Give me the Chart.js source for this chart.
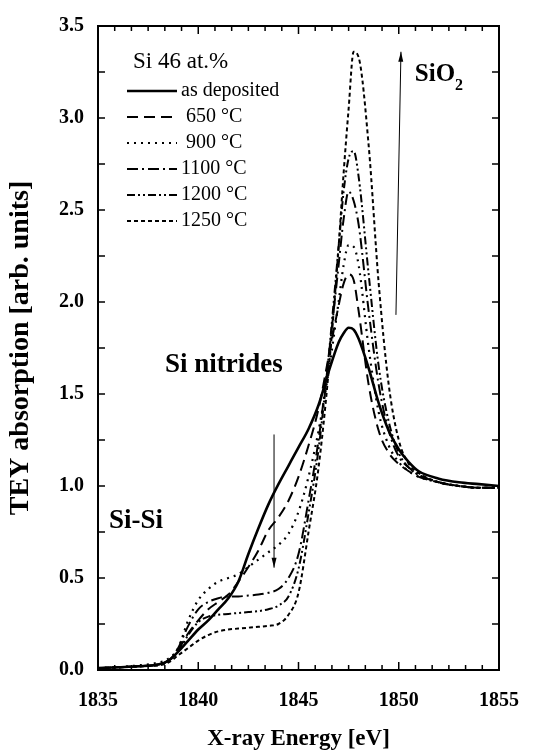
<!DOCTYPE html>
<html>
<head>
<meta charset="utf-8">
<script src="https://cdn.jsdelivr.net/npm/chart.js@4.4.1/dist/chart.umd.min.js"></script>
<style>
  html, body { margin: 0; padding: 0; background: #fff; }
</style>
</head>
<body>
<canvas id="myChart" width="553" height="753"></canvas>
<script>
/** Data start */

// photon energy grid (eV)
const energy = [1835, 1836, 1837, 1838, 1838.5, 1839, 1839.5, 1840, 1840.5, 1841, 1841.5, 1842,
  1842.5, 1843, 1843.5, 1844, 1844.5, 1845, 1845.5, 1846, 1846.5, 1847, 1847.25, 1847.5,
  1847.75, 1848, 1848.5, 1849, 1849.5, 1850, 1850.5, 1851, 1852, 1853, 1854, 1855];

// TEY absorption, one list per sample
const asDeposited = [0.01, 0.015, 0.02, 0.03, 0.05, 0.1, 0.16, 0.22, 0.27, 0.33, 0.39, 0.48,
  0.63, 0.77, 0.9, 1.01, 1.11, 1.21, 1.31, 1.44, 1.62, 1.78, 1.83, 1.86,
  1.85, 1.8, 1.64, 1.45, 1.3, 1.2, 1.13, 1.08, 1.04, 1.02, 1.01, 1.0];
const ann650 = [0.01, 0.015, 0.02, 0.03, 0.05, 0.11, 0.2, 0.27, 0.33, 0.37, 0.41, 0.48,
  0.56, 0.65, 0.76, 0.83, 0.92, 1.05, 1.22, 1.42, 1.7, 1.98, 2.1, 2.15,
  2.12, 1.95, 1.55, 1.3, 1.18, 1.12, 1.08, 1.05, 1.02, 1.0, 0.99, 0.99];
const ann900 = [0.01, 0.015, 0.025, 0.04, 0.06, 0.12, 0.27, 0.38, 0.44, 0.48, 0.5, 0.52,
  0.56, 0.6, 0.64, 0.68, 0.74, 0.86, 1.05, 1.3, 1.62, 2.0, 2.2, 2.31,
  2.3, 2.2, 1.75, 1.4, 1.22, 1.13, 1.08, 1.05, 1.02, 1.0, 0.99, 0.99];
const ann1100 = [0.01, 0.015, 0.02, 0.03, 0.05, 0.12, 0.24, 0.33, 0.37, 0.39, 0.4, 0.4,
  0.405, 0.41, 0.42, 0.44, 0.5, 0.63, 0.92, 1.25, 1.7, 2.2, 2.45, 2.6,
  2.55, 2.42, 1.95, 1.55, 1.3, 1.16, 1.1, 1.06, 1.02, 1.0, 0.99, 0.99];
const ann1200 = [0.01, 0.015, 0.02, 0.03, 0.05, 0.1, 0.19, 0.26, 0.29, 0.3, 0.305, 0.31,
  0.315, 0.32, 0.33, 0.35, 0.4, 0.55, 0.85, 1.2, 1.7, 2.3, 2.6, 2.78,
  2.82, 2.68, 2.15, 1.65, 1.35, 1.18, 1.1, 1.06, 1.02, 1.0, 0.99, 0.99];
const ann1250 = [0.01, 0.015, 0.02, 0.025, 0.04, 0.08, 0.12, 0.16, 0.19, 0.21, 0.22, 0.225,
  0.23, 0.235, 0.24, 0.25, 0.3, 0.42, 0.75, 1.1, 1.62, 2.3, 2.7, 3.05,
  3.36, 3.33, 2.85, 2.1, 1.55, 1.25, 1.12, 1.07, 1.02, 1.0, 0.99, 0.99];

const seriesLabels = ['as deposited', '650 °C', '900 °C', '1100 °C', '1200 °C', '1250 °C'];
const xTickValues = [1835, 1840, 1845, 1850, 1855];
const yTickValues = [0, 0.5, 1.0, 1.5, 2.0, 2.5, 3.0, 3.5];

/** Data end */

const serif = "'Liberation Serif', 'Times New Roman', serif";

const styles = [
  { dash: [], width: 2.6 },
  { dash: [11, 6], width: 2 },
  { dash: [2, 5], width: 2.2 },
  { dash: [11, 4, 2, 4], width: 2 },
  { dash: [8, 3, 2, 3, 2, 3], width: 2 },
  { dash: [4, 3], width: 2 }
];

const allSeries = [asDeposited, ann650, ann900, ann1100, ann1200, ann1250];

const datasets = allSeries.map((vals, i) => ({
  label: seriesLabels[i],
  data: energy.map((e, j) => ({ x: e, y: vals[j] })),
  borderColor: '#000',
  borderWidth: styles[i].width,
  borderDash: styles[i].dash,
  pointRadius: 0,
  fill: false,
  cubicInterpolationMode: 'monotone'
}));

function arrow(ctx, x1, y1, x2, y2) {
  const ang = Math.atan2(y2 - y1, x2 - x1);
  ctx.save();
  ctx.setLineDash([]);
  ctx.lineWidth = 1;
  ctx.strokeStyle = '#000';
  ctx.fillStyle = '#000';
  ctx.beginPath();
  ctx.moveTo(x1, y1);
  ctx.lineTo(x2, y2);
  ctx.stroke();
  ctx.translate(x2, y2);
  ctx.rotate(ang);
  ctx.beginPath();
  ctx.moveTo(0, 0);
  ctx.lineTo(-10, -2.5);
  ctx.lineTo(-10, 2.5);
  ctx.closePath();
  ctx.fill();
  ctx.restore();
}

// frame, inward ticks, legend and labels
const decorations = {
  id: 'decorations',
  afterDatasetsDraw(chart) {
    const ctx = chart.ctx;
    const xs = chart.scales.x;
    const ys = chart.scales.y;
    const a = chart.chartArea;
    ctx.save();
    ctx.strokeStyle = '#000';
    ctx.fillStyle = '#000';
    ctx.setLineDash([]);

    // frame
    ctx.lineWidth = 2;
    ctx.strokeRect(a.left, a.top, a.right - a.left, a.bottom - a.top);

    // x ticks: majors every 5 eV, 5 minors between
    ctx.lineWidth = 1.5;
    for (let i = 0; i <= 24; i++) {
      const px = xs.getPixelForValue(1835 + i * 5 / 6);
      const len = i % 6 === 0 ? 8 : 5;
      ctx.beginPath();
      ctx.moveTo(px, a.bottom);
      ctx.lineTo(px, a.bottom - len);
      ctx.moveTo(px, a.top);
      ctx.lineTo(px, a.top + len);
      ctx.stroke();
    }
    // y ticks every 0.25
    for (let i = 0; i <= 14; i++) {
      const py = ys.getPixelForValue(i * 0.25);
      ctx.beginPath();
      ctx.moveTo(a.left, py);
      ctx.lineTo(a.left + 7, py);
      ctx.moveTo(a.right, py);
      ctx.lineTo(a.right - 7, py);
      ctx.stroke();
    }

    // legend
    ctx.textBaseline = 'middle';
    ctx.textAlign = 'left';
    ctx.font = '23px ' + serif;
    ctx.fillText('Si 46 at.%', a.left + 35, a.top + 36);
    ctx.font = '20px ' + serif;
    chart.data.datasets.forEach((ds, i) => {
      const y = a.top + 65 + i * 26;
      ctx.save();
      ctx.lineWidth = ds.borderWidth;
      ctx.setLineDash(ds.borderDash);
      ctx.beginPath();
      ctx.moveTo(a.left + 29, y);
      ctx.lineTo(a.left + 79, y);
      ctx.stroke();
      ctx.restore();
      const off = ds.label.length < 7 ? 5 : 0;
      ctx.fillText(ds.label, a.left + 83 + off, y);
    });

    // peak labels
    ctx.font = 'bold 27px ' + serif;
    ctx.textAlign = 'center';
    ctx.fillText('Si nitrides', xs.getPixelForValue(1841.28), ys.getPixelForValue(1.66));
    ctx.fillText('Si-Si', xs.getPixelForValue(1836.9), ys.getPixelForValue(0.81));
    ctx.textAlign = 'left';
    ctx.textBaseline = 'alphabetic';
    const sx = xs.getPixelForValue(1850.8);
    const sy = ys.getPixelForValue(3.2);
    ctx.font = 'bold 25px ' + serif;
    ctx.fillText('SiO', sx, sy);
    const w = ctx.measureText('SiO').width;
    ctx.font = 'bold 16px ' + serif;
    ctx.fillText('2', sx + w, sy + 9);

    // arrows
    arrow(ctx, xs.getPixelForValue(1843.78), ys.getPixelForValue(1.28),
      xs.getPixelForValue(1843.78), ys.getPixelForValue(0.556));
    arrow(ctx, xs.getPixelForValue(1849.86), ys.getPixelForValue(1.93),
      xs.getPixelForValue(1850.11), ys.getPixelForValue(3.36));

    ctx.restore();
  }
};

const config = {
  type: 'line',
  data: { datasets: datasets },
  options: {
    responsive: false,
    animation: false,
    devicePixelRatio: 1,
    layout: { padding: { top: 22, right: 54, left: 0, bottom: 0 } },
    plugins: { legend: { display: false }, tooltip: { enabled: false } },
    scales: {
      x: {
        type: 'linear',
        min: 1835,
        max: 1855,
        afterBuildTicks: (s) => { s.ticks = xTickValues.map(v => ({ value: v })); },
        ticks: { color: '#000', font: { family: serif, size: 20, weight: 'bold' }, padding: 19, maxRotation: 0,
          callback: (v) => String(v) },
        grid: { display: false, drawTicks: false },
        border: { display: false },
        title: { display: true, text: 'X-ray Energy [eV]', color: '#000',
          font: { family: serif, size: 23, weight: 'bold' }, padding: { top: 0, bottom: 0 } },
        afterFit: (s) => { s.height = 83; }
      },
      y: {
        min: 0,
        max: 3.5,
        afterBuildTicks: (s) => { s.ticks = yTickValues.map(v => ({ value: v })); },
        ticks: { color: '#000', font: { family: serif, size: 20, weight: 'bold' }, padding: 14,
          callback: (v) => v.toFixed(1) },
        grid: { display: false, drawTicks: false },
        border: { display: false },
        title: { display: true, text: 'TEY absorption [arb. units]', color: '#000',
          font: { family: serif, size: 28, weight: 'bold' }, padding: { top: 4, bottom: 0 } },
        afterFit: (s) => { s.width = 98; }
      }
    }
  },
  plugins: [decorations]
};

const myChart = new Chart(document.getElementById('myChart'), config);
</script>
</body>
</html>
